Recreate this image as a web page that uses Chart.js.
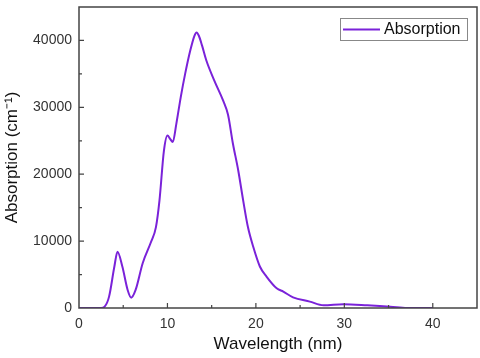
<!DOCTYPE html>
<html>
<head>
<meta charset="utf-8">
<script src="https://cdn.jsdelivr.net/npm/chart.js@4.4.0/dist/chart.umd.min.js"></script>
<style>
  html, body { margin: 0; padding: 0; background: #fff; }
  #wrap { width: 480px; height: 358px; position: relative; }
</style>
</head>
<body>
<div id="wrap"><canvas id="absChart"></canvas></div>
<script>
'use strict';

// wavelength (nm) and absorption (cm^-1)
const wavelength = [
  0, 2.5, 2.9, 3.4, 4.0, 4.35, 4.9, 5.5, 5.9, 6.4, 7.2, 8.15, 8.7, 9.1,
  9.6, 10.0, 10.3, 10.6, 11.0, 11.5, 12.0, 12.6, 13.05, 13.3, 13.55, 13.9, 14.4, 15.3,
  16.3, 16.85, 17.4, 18.0, 18.56, 19.1, 19.7, 20.45, 21.2, 22.35, 23.1,
  24.2, 26.1, 27.65, 29.9, 32.6, 35.2, 37.1, 40
];
const absorption = [
  0, 0, 200, 1700, 6200, 8400, 6200, 2700, 1550, 2700, 6700, 9900, 12100, 16100,
  23500, 25800, 25300, 24800, 27500, 31500, 35000, 38600, 40700, 41200, 40700, 39300, 37000, 34000,
  31000, 28900, 24600, 20600, 16100, 12100, 9150, 6200, 4700, 2950, 2450,
  1600, 950, 400, 550, 400, 200, 0, 0
];
const xTicks = [0, 10, 20, 30, 40];
const yTicks = [0, 10000, 20000, 30000, 40000];
const seriesLabel = 'Absorption';
const xTitle = 'Wavelength (nm)';
const yTitle = 'Absorption (cm\u207B\u00B9)';

const lineColor = '#7a22d9';
const axisColor = '#444';
const fontFamily = '"Liberation Sans", Arial, sans-serif';

// frame, inward ticks and the legend box inside the plot
const framePlugin = {
  id: 'frame',
  afterDraw(chart) {
    const { ctx, chartArea: a, scales } = chart;
    ctx.save();
    ctx.strokeStyle = axisColor;
    ctx.lineWidth = 1.5;
    ctx.strokeRect(a.left, a.top, a.right - a.left, a.bottom - a.top);

    ctx.lineWidth = 1.2;
    ctx.beginPath();
    for (let v = 5; v < 45; v += 5) {
      const px = scales.x.getPixelForValue(v);
      const len = v % 10 === 0 ? 5 : 3;
      ctx.moveTo(px, a.bottom);
      ctx.lineTo(px, a.bottom - len);
    }
    for (let v = 5000; v < 45000; v += 5000) {
      const py = scales.y.getPixelForValue(v);
      const len = v % 10000 === 0 ? 5 : 3;
      ctx.moveTo(a.left, py);
      ctx.lineTo(a.left + len, py);
    }
    ctx.stroke();

    // legend
    const ds = chart.data.datasets[0];
    const bx = 340, by = 18, bw = 127, bh = 22;
    ctx.fillStyle = '#fff';
    ctx.fillRect(bx, by, bw, bh);
    ctx.strokeStyle = '#888';
    ctx.lineWidth = 1;
    ctx.strokeRect(bx + 0.5, by + 0.5, bw, bh);
    ctx.strokeStyle = ds.borderColor;
    ctx.lineWidth = 2;
    ctx.beginPath();
    ctx.moveTo(bx + 3, by + bh / 2 + 0.5);
    ctx.lineTo(bx + 40, by + bh / 2 + 0.5);
    ctx.stroke();
    ctx.fillStyle = '#111';
    ctx.font = '16px ' + fontFamily;
    ctx.textBaseline = 'middle';
    ctx.fillText(ds.label, bx + 44, by + bh / 2 + 1);
    ctx.restore();
  },
};

const ctx = document.getElementById('absChart');
new Chart(ctx, {
  type: 'line',
  data: {
    datasets: [
      {
        label: seriesLabel,
        data: wavelength.map((w, i) => ({ x: w, y: absorption[i] })),
        borderColor: lineColor,
        borderWidth: 2,
        pointRadius: 0,
        fill: false,
        cubicInterpolationMode: 'monotone',
      },
    ],
  },
  options: {
    responsive: true,
    maintainAspectRatio: false,
    animation: false,
    layout: { padding: { top: 7, right: 3, left: 0, bottom: 0 } },
    plugins: {
      legend: { display: false },
      tooltip: { enabled: false },
    },
    scales: {
      x: {
        type: 'linear',
        min: 0,
        max: 45,
        grid: { display: false, drawTicks: false, tickLength: 0 },
        border: { display: false },
        ticks: {
          autoSkip: false,
          padding: 8,
          color: '#333',
          font: { family: fontFamily, size: 14 },
        },
        afterBuildTicks: (s) => { s.ticks = xTicks.map((v) => ({ value: v })); },
        title: {
          display: true,
          text: xTitle,
          color: '#111',
          font: { family: fontFamily, size: 17 },
          padding: { top: 0, bottom: 3 },
        },
        afterFit: (s) => {
          s.height = 50;
          s.paddingLeft = 0;
          s.paddingRight = 0;
        },
      },
      y: {
        min: 0,
        max: 45000,
        grid: { display: false, drawTicks: false, tickLength: 0 },
        border: { display: false },
        ticks: {
          autoSkip: false,
          padding: 7,
          color: '#333',
          font: { family: fontFamily, size: 14 },
          callback: (v) => String(v),
        },
        afterBuildTicks: (s) => { s.ticks = yTicks.map((v) => ({ value: v })); },
        title: {
          display: true,
          text: yTitle,
          color: '#111',
          font: { family: fontFamily, size: 17 },
          padding: { top: 2, bottom: 0 },
        },
        afterFit: (s) => {
          s.width = 79;
          s.paddingTop = 0;
          s.paddingBottom = 0;
        },
      },
    },
  },
  plugins: [framePlugin],
});
</script>
</body>
</html>
